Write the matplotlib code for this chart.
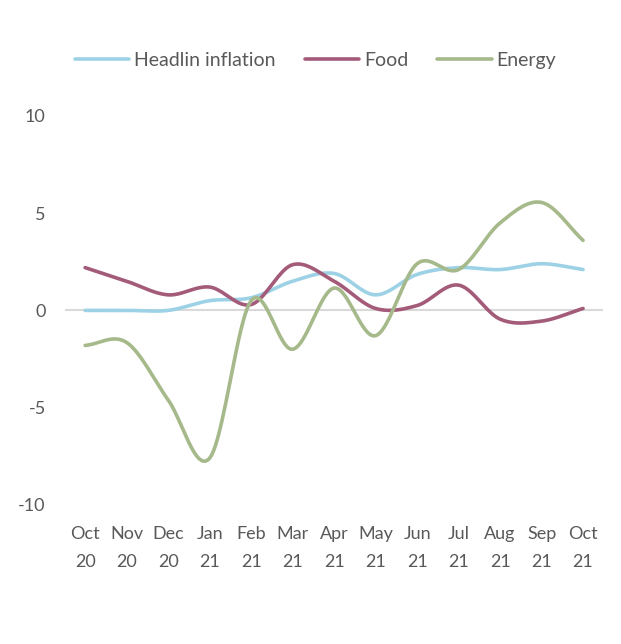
import numpy as np
import matplotlib
matplotlib.use('Agg')
import matplotlib.pyplot as plt

months = ['Oct\n20', 'Nov\n20', 'Dec\n20', 'Jan\n21', 'Feb\n21', 'Mar\n21', 'Apr\n21',
          'May\n21', 'Jun\n21', 'Jul\n21', 'Aug\n21', 'Sep\n21', 'Oct\n21']
headline = [0.0, 0.0, 0.0, 0.5, 0.65, 1.5, 1.9, 0.8, 1.85, 2.2, 2.1, 2.4, 2.1]
food = [2.2, 1.5, 0.8, 1.2, 0.3, 2.35, 1.5, 0.1, 0.25, 1.3, -0.45, -0.55, 0.1]
energy = [-1.8, -1.65, -4.6, -7.6, 0.5, -2.0, 1.15, -1.3, 2.4, 2.1, 4.5, 5.55, 3.6]

plt.rcParams['font.family'] = ['Lato', 'DejaVu Sans']
plt.rcParams['axes.unicode_minus'] = False


def smooth(y, n=20):
    # Catmull-Rom spline through the points, like a spreadsheet "smoothed line"
    p = np.array(y, dtype=float)
    x = np.arange(len(p), dtype=float)
    pp = np.concatenate([[2 * p[0] - p[1]], p, [2 * p[-1] - p[-2]]])
    xs, ys = [], []
    for i in range(len(p) - 1):
        p0, p1, p2, p3 = pp[i], pp[i + 1], pp[i + 2], pp[i + 3]
        t = np.linspace(0, 1, n, endpoint=False)
        v = 0.5 * ((2 * p1) + (-p0 + p2) * t + (2 * p0 - 5 * p1 + 4 * p2 - p3) * t ** 2
                   + (-p0 + 3 * p1 - 3 * p2 + p3) * t ** 3)
        xs.append(x[i] + t)
        ys.append(v)
    xs.append([x[-1]])
    ys.append([p[-1]])
    return np.concatenate(xs), np.concatenate(ys)


fig = plt.figure(figsize=(6.21, 6.44), dpi=100)
ax = fig.add_axes([0.105, 0.216, 0.866, 0.604])

ax.axhline(0, color='#d9d9d9', lw=1.5, zorder=1)

series = [('Headlin inflation', headline, '#9dd2e6'),
          ('Food', food, '#a35b79'),
          ('Energy', energy, '#a6b98a')]
for name, vals, col in series:
    sx, sy = smooth(vals)
    ax.plot(sx, sy, color=col, lw=2.6, label=name, solid_capstyle='round', zorder=2)

ax.set_xlim(-0.48, 12.48)
ax.set_ylim(-10, 10)
ax.set_yticks([-10, -5, 0, 5, 10])
ax.set_xticks(range(len(months)))
ax.set_xticklabels(months, linespacing=1.95)
ax.tick_params(axis='both', length=0, labelsize=13, colors='#595959')
ax.tick_params(axis='y', pad=14)
ax.tick_params(axis='x', pad=15)
for s in ax.spines.values():
    s.set_visible(False)

fig.legend(loc='center', bbox_to_anchor=(0.508, 0.906), ncol=3, frameon=False,
           fontsize=14, labelcolor='#595959', handlelength=2.8, handletextpad=0.25,
           columnspacing=1.5)

fig.savefig('out.png', dpi=100)
